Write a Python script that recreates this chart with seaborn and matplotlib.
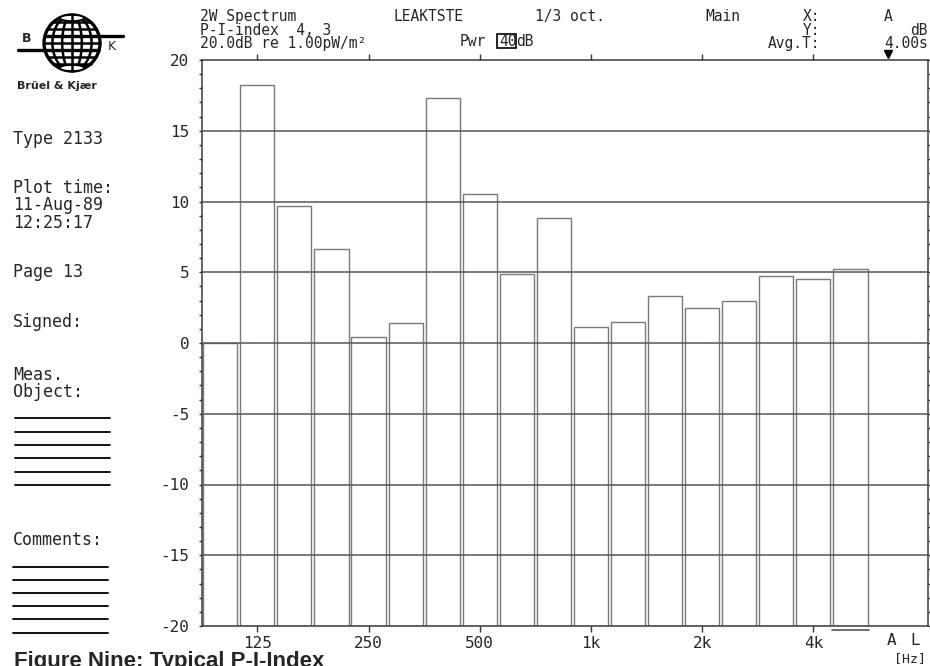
"""
B&K 2133 - P-I-index spectrum, 1/3 octave (plotter sheet)
"""

import numpy as np
import pandas as pd
import seaborn as sns
import matplotlib.pyplot as plt
from matplotlib.patches import Circle, Ellipse, Rectangle

# data
bands = ["100", "125", "160", "200", "250", "315", "400", "500", "630",
         "800", "1k", "1.25k", "1.6k", "2k", "2.5k", "3.15k", "4k", "5k"]
levels = [0.0, 18.25, 9.65, 6.65, 0.45, 1.4, 17.3, 10.55, 4.9,
          8.8, 1.1, 1.45, 3.3, 2.5, 3.0, 4.75, 4.55, 5.2]
octave_labels = ["125", "250", "500", "1k", "2k", "4k"]
y_floor = -20

sns.set_theme(style="white")
plt.rcParams["font.family"] = ["DejaVu Sans Mono", "DejaVu Sans"]

W, H = 930, 666
fig = plt.figure(figsize=(W / 100, H / 100), dpi=100)


def px(x, y):
    return x / W, 1 - y / H


def ftext(x, y, s, **kw):
    kw.setdefault("fontsize", 12)
    kw.setdefault("va", "center")
    fig.text(*px(x, y), s, **kw)


# main axes
left, right, top, bottom = 201.7, 928.3, 60, 626
ax = fig.add_axes([left / W, 1 - bottom / H, (right - left) / W, (bottom - top) / H])

df = pd.DataFrame({"band": bands, "height": np.array(levels) - y_floor})
sns.barplot(data=df, x="band", y="height", order=bands, fill=False,
            color="#7a7a7a", linewidth=1.0, width=0.92, errorbar=None,
            bottom=y_floor, ax=ax)

for g in [-15, -10, -5, 0, 5, 10, 15]:
    ax.axhline(g, color="#4d5a55", lw=1.1, zorder=3)

ax.set_xlim(-0.5, 19.1)
ax.set_ylim(-20, 20)
ax.set_xlabel("")
ax.set_ylabel("")

tick_pos = [bands.index(b) for b in octave_labels]
ax.set_xticks(tick_pos)
ax.set_xticklabels(octave_labels, fontsize=11.5)
ax.tick_params(axis="x", which="major", direction="out", length=4, width=1,
               top=True, bottom=True, labeltop=False, pad=3, color="#333333")

ax.set_yticks(range(-20, 21, 5))
ax.set_yticklabels([str(v) for v in range(-20, 21, 5)], fontsize=11.5)
ax.set_yticks(range(-20, 21, 1), minor=True)
ax.tick_params(axis="y", which="both", direction="out", length=2, width=1,
               left=True, right=True, pad=7, color="#333333")

for s in ax.spines.values():
    s.set_color("#3a3a3a")
    s.set_linewidth(1.1)

# cursor marker and underline
ax.plot([18.0], [20.45], marker="v", color="black", ms=6, clip_on=False)
ax.plot([16.5, 17.5], [-20.25, -20.25], color="#4d5a55", lw=1.2, clip_on=False)
ax.text(18.1, -21.05, "A", fontsize=11.5, ha="center", va="center")
ax.text(18.74, -21.05, "L", fontsize=11.5, ha="center", va="center")
ftext(910, 659, "[Hz]", fontsize=9.5, ha="center")

# header
hdr = dict(fontsize=10.5, va="top", linespacing=0.88)
ftext(200, 9, "2W Spectrum\nP-I-index  4, 3\n20.0dB re 1.00pW/m\u00b2", **hdr)
ftext(393, 9, "LEAKTSTE", **hdr)
ftext(535, 9, "1/3 oct.", **hdr)
ftext(705, 9, "Main", **hdr)
ftext(820, 9, "X:\nY:\nAvg.T:", ha="right", multialignment="right", **hdr)
ftext(928, 9, "A    \ndB\n4.00s", ha="right", multialignment="right", **hdr)
ftext(460, 34.5, "Pwr", **hdr)
ftext(499, 34.5, "40", **hdr)
ftext(516, 34.5, "dB", **hdr)
fig.add_artist(Rectangle(px(497, 48), 19 / W, 14 / H, fill=False, lw=1.2,
                         edgecolor="black", transform=fig.transFigure))

# left panel
ftext(17, 86, "Brüel & Kjær", fontsize=8, fontweight="bold", family="DejaVu Sans")
ftext(13, 139, "Type 2133")
ftext(13, 179, "Plot time:\n11-Aug-89\n12:25:17", va="top", linespacing=0.95)
ftext(13, 272, "Page 13")
ftext(13, 322, "Signed:")
ftext(13, 366, "Meas.\nObject:", va="top", linespacing=0.9)
for y in [418, 432, 445, 458, 472, 485]:
    fig.add_artist(plt.Line2D([15 / W, 110 / W], [1 - y / H] * 2, color="black",
                              lw=1.3, transform=fig.transFigure))
ftext(13, 540, "Comments:")
for y in [567, 580, 593, 606, 619, 633]:
    fig.add_artist(plt.Line2D([13 / W, 108 / W], [1 - y / H] * 2, color="black",
                              lw=1.3, transform=fig.transFigure))

# logo
lx0, lx1, ly0, ly1 = 10, 130, 5, 80
lax = fig.add_axes([lx0 / W, 1 - ly1 / H, (lx1 - lx0) / W, (ly1 - ly0) / H])
lax.set_xlim(lx0, lx1)
lax.set_ylim(ly1, ly0)
lax.axis("off")
cx, cy, r = 72, 43, 28
lax.add_patch(Circle((cx, cy), r, fill=False, lw=2.4, color="black"))
for k in [0.35, 0.7]:
    lax.add_patch(Ellipse((cx, cy), 2 * r * k, 2 * r, fill=False, lw=1.8, color="black"))
lax.plot([cx, cx], [cy - r, cy + r], color="black", lw=1.8)
for dy in [-21, -14, -7, 0, 7, 14, 21]:
    half = np.sqrt(r ** 2 - dy ** 2)
    lax.plot([cx - half, cx + half], [cy + dy, cy + dy], color="black", lw=1.8)
for dy in [-r + 3, r - 3]:
    lax.add_patch(Ellipse((cx, cy + dy), 24, 6, facecolor="white", edgecolor="black", lw=1.2))
lax.plot([18, 98], [50, 50], color="black", lw=2.4)
lax.plot([46, 123], [36, 36], color="black", lw=2.4)
lax.text(27, 39, "B", fontsize=9, fontweight="bold", ha="center", va="center",
         family="DejaVu Sans")
lax.text(112, 47, "K", fontsize=9, ha="center", va="center", family="DejaVu Sans")

# caption (cut off at the bottom edge of the scan)
ftext(14, 651, "Figure Nine: Typical P-I-Index", fontsize=16, fontweight="bold",
      family="Liberation Sans", va="top")

fig.savefig("out.png", dpi=100)
plt.close(fig)
print("Saved out.png")
